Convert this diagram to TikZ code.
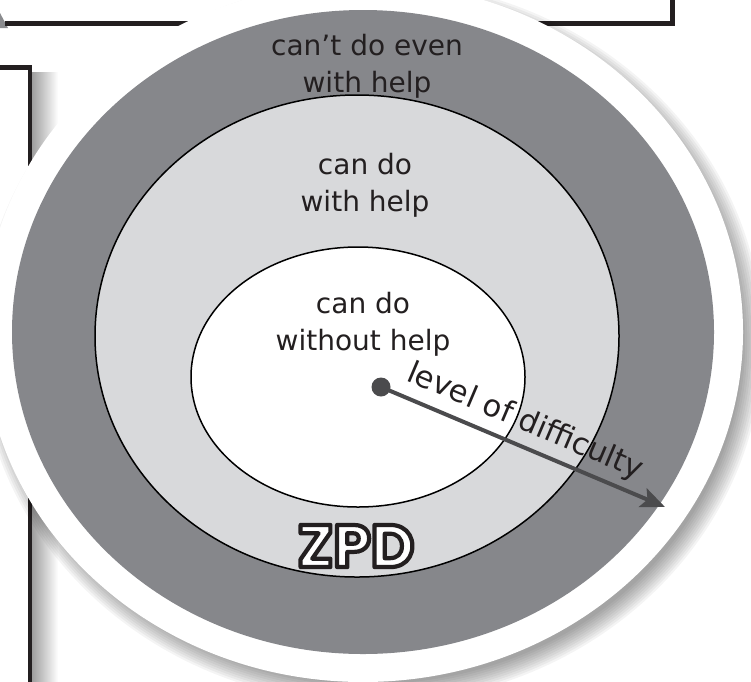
\documentclass[tikz,border=0pt]{standalone}
\usepackage{fontspec}
\setmainfont{DejaVu Sans}
\newfontfamily\zpdfont{Poppins}
\usetikzlibrary{arrows.meta,calc}
\definecolor{ringdark}{HTML}{86878B}
\definecolor{ringlight}{HTML}{D8D9DB}
\definecolor{arrowgray}{HTML}{4B4B4D}
\definecolor{inkdark}{HTML}{231F20}
\definecolor{tipgray}{HTML}{8A8B8E}
\newcommand{\outlinedtext}[1]{\special{pdf:literal direct 0.137 0.122 0.125 RG 4.2 w 1 j 2 Tr}#1\special{pdf:literal direct 0 Tr}}
\tikzset{
  frameline/.style={draw=inkdark, line width=4.5pt, line join=miter},
  ringline/.style={draw=black, line width=1.5pt},
  label/.style={font=\fontsize{28}{37}\selectfont, text=inkdark, align=center, inner sep=0pt},
  diffarrow/.style={draw=arrowgray, line width=4pt, -{Stealth[length=24pt, width=20pt, inset=5pt]}},
}
\begin{document}
\begin{tikzpicture}[x=1pt,y=-1pt]
\useasboundingbox (0,0) rectangle (751,681);
% frame behind the ellipse
\shade[left color=black!38, right color=white] (32,72) rectangle (58,681);
\fill[tipgray] (0,13) -- (8,28) -- (0,28) -- cycle;
\draw[frameline] (5,23.5) -- (672.5,23.5) -- (672.5,-3);
\draw[frameline] (-3,67.5) -- (30,67.5) -- (30,684);
% soft shadow of the disc
\foreach \i in {0,...,9}
  \fill[black, opacity=0.045] (371,342) ellipse [x radius={372+2.2*\i}, y radius={342+2.2*\i}];
% disc
\fill[white] (363,332) ellipse [x radius=380, y radius=350];
\fill[ringdark] (363,332) ellipse [x radius=351, y radius=322];
\filldraw[fill=ringlight, ringline] (357,336) ellipse [x radius=262, y radius=241];
\filldraw[fill=white, ringline] (358,377) ellipse [x radius=167, y radius=130];
% arrow
\node[circle, fill=arrowgray, minimum size=19pt, inner sep=0pt] (dot) at (381,387) {};
\coordinate (tip) at (665,507);
\draw[diffarrow] (dot.center) -- (tip);
% texts
\node[label] (cant) at (367,66) {can’t do even\\with help};
\node[label] (withhelp) at (365,185) {can do\\with help};
\node[label] (without) at (363,324) {can do\\without help};
\node[font=\fontsize{30.5}{34}\selectfont, text=inkdark, rotate=-23, inner sep=0pt] (diff) at (525,422) {level of difficulty};
\node[font=\zpdfont\bfseries\fontsize{60}{64}\selectfont, text=white, inner sep=0pt] (zpd) at (356,546) {\outlinedtext{ZPD}};
\end{tikzpicture}
\end{document}
